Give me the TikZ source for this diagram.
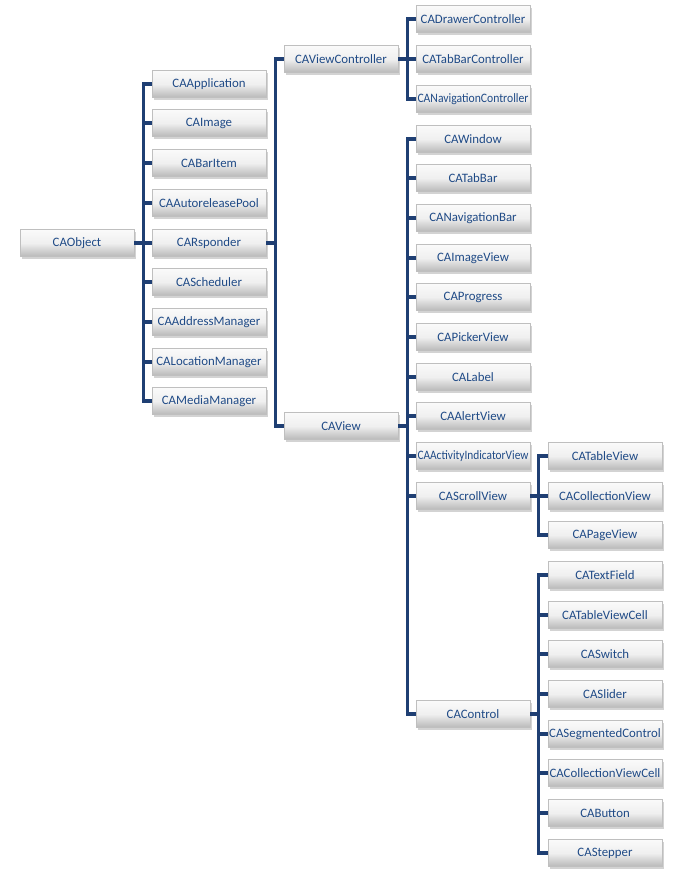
\documentclass[tikz,border=0pt]{standalone}
\usepackage{fontspec}
\setmainfont{Carlito}
\usetikzlibrary{shadows}
\definecolor{boxtext}{HTML}{1F4A86}
\definecolor{linkcol}{HTML}{1F3F73}
\newcommand{\squeezed}[1]{\resizebox{2.22cm}{\height}{#1}}
\tikzset{
  cls/.style = {draw = gray!50, line width = 0.3pt,
    top color = gray!4, bottom color = gray!55, middle color = gray!12,
    minimum width = 2.28cm, minimum height = 0.54cm, inner xsep = 0pt,
    text = boxtext, font = \fontsize{7.3}{9}\selectfont,
    drop shadow = {opacity = 0.35, shadow xshift = 1.2pt, shadow yshift = -1.2pt}},
  link/.style = {draw = linkcol, line width = 1.9pt, line join = miter}
}
\begin{document}
\begin{tikzpicture}[x = 0.02cm, y = -0.02cm]
      \useasboundingbox (0,0) rectangle (692,872);
      % root
      \node[cls] at (77,243) (O) {CAObject};
      % second column
      \node[cls] at (209,84) (A1) {CAApplication};
      \node[cls] at (209,123) (A2) {CAImage};
      \node[cls] at (209,163) (A3) {CABarItem};
      \node[cls] at (209,203) (A4) {CAAutoreleasePool};
      \node[cls] at (209,243) (A5) {CARsponder};
      \node[cls] at (209,282) (A6) {CAScheduler};
      \node[cls] at (209,322) (A7) {CAAddressManager};
      \node[cls] at (209,362) (A8) {CALocationManager};
      \node[cls] at (209,401) (A9) {CAMediaManager};
      \draw[link] (O.east) -- ++(9,0) |- (A1.west);
      \draw[link] (O.east) -- ++(9,0) |- (A2.west);
      \draw[link] (O.east) -- ++(9,0) |- (A3.west);
      \draw[link] (O.east) -- ++(9,0) |- (A4.west);
      \draw[link] (O.east) -- ++(9,0) |- (A5.west);
      \draw[link] (O.east) -- ++(9,0) |- (A6.west);
      \draw[link] (O.east) -- ++(9,0) |- (A7.west);
      \draw[link] (O.east) -- ++(9,0) |- (A8.west);
      \draw[link] (O.east) -- ++(9,0) |- (A9.west);
      % third column
      \node[cls] at (341,59) (B1) {CAViewController};
      \node[cls] at (341,426) (B2) {CAView};
      \draw[link] (A5.east) -- ++(9,0) |- (B1.west);
      \draw[link] (A5.east) -- ++(9,0) |- (B2.west);
      % fourth column, controllers
      \node[cls] at (473,19) (C1) {CADrawerController};
      \node[cls] at (473,59) (C2) {CATabBarController};
      \node[cls] at (473,99) (C3) {\squeezed{CANavigationController}};
      \draw[link] (B1.east) -- ++(9,0) |- (C1.west);
      \draw[link] (B1.east) -- ++(9,0) |- (C2.west);
      \draw[link] (B1.east) -- ++(9,0) |- (C3.west);
      % fourth column, views
      \node[cls] at (473,139) (C4) {CAWindow};
      \node[cls] at (473,178) (C5) {CATabBar};
      \node[cls] at (473,218) (C6) {CANavigationBar};
      \node[cls] at (473,258) (C7) {CAImageView};
      \node[cls] at (473,297) (C8) {CAProgress};
      \node[cls] at (473,337) (C9) {CAPickerView};
      \node[cls] at (473,377) (C10) {CALabel};
      \node[cls] at (473,416) (C11) {CAAlertView};
      \node[cls] at (473,456) (C12) {\squeezed{CAActivityIndicatorView}};
      \node[cls] at (473,496) (C13) {CAScrollView};
      \node[cls] at (473,714) (C14) {CAControl};
      \draw[link] (B2.east) -- ++(9,0) |- (C4.west);
      \draw[link] (B2.east) -- ++(9,0) |- (C5.west);
      \draw[link] (B2.east) -- ++(9,0) |- (C6.west);
      \draw[link] (B2.east) -- ++(9,0) |- (C7.west);
      \draw[link] (B2.east) -- ++(9,0) |- (C8.west);
      \draw[link] (B2.east) -- ++(9,0) |- (C9.west);
      \draw[link] (B2.east) -- ++(9,0) |- (C10.west);
      \draw[link] (B2.east) -- ++(9,0) |- (C11.west);
      \draw[link] (B2.east) -- ++(9,0) |- (C12.west);
      \draw[link] (B2.east) -- ++(9,0) |- (C13.west);
      \draw[link] (B2.east) -- ++(9,0) |- (C14.west);
      % fifth column, scroll views
      \node[cls] at (605,456) (D1) {CATableView};
      \node[cls] at (605,496) (D2) {CACollectionView};
      \node[cls] at (605,535) (D3) {CAPageView};
      \draw[link] (C13.east) -- ++(8,0) |- (D1.west);
      \draw[link] (C13.east) -- ++(8,0) |- (D2.west);
      \draw[link] (C13.east) -- ++(8,0) |- (D3.west);
      % fifth column, controls
      \node[cls] at (605,575) (D4) {CATextField};
      \node[cls] at (605,615) (D5) {CATableViewCell};
      \node[cls] at (605,654) (D6) {CASwitch};
      \node[cls] at (605,694) (D7) {CASlider};
      \node[cls] at (605,734) (D8) {CASegmentedControl};
      \node[cls] at (605,773) (D9) {CACollectionViewCell};
      \node[cls] at (605,813) (D10) {CAButton};
      \node[cls] at (605,853) (D11) {CAStepper};
      \draw[link] (C14.east) -- ++(8,0) |- (D4.west);
      \draw[link] (C14.east) -- ++(8,0) |- (D5.west);
      \draw[link] (C14.east) -- ++(8,0) |- (D6.west);
      \draw[link] (C14.east) -- ++(8,0) |- (D7.west);
      \draw[link] (C14.east) -- ++(8,0) |- (D8.west);
      \draw[link] (C14.east) -- ++(8,0) |- (D9.west);
      \draw[link] (C14.east) -- ++(8,0) |- (D10.west);
      \draw[link] (C14.east) -- ++(8,0) |- (D11.west);
    \end{tikzpicture}
\end{document}
